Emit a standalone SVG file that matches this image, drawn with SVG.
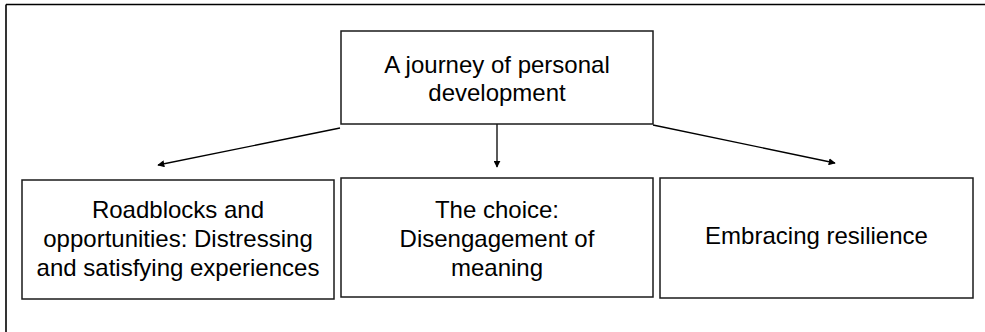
<svg xmlns="http://www.w3.org/2000/svg" width="985" height="332" viewBox="0 0 985 332">
<style>
.box{fill:#fff;stroke:#1a1a1a;stroke-width:1.5}
.t{font-family:"Liberation Sans",Arial,sans-serif;font-size:24px;fill:#000;text-anchor:middle}
.c{stroke:#000;stroke-width:1.3;fill:none;marker-end:url(#ah)}
</style>
<defs>
<marker id="ah" viewBox="0 0 10 10" refX="9" refY="5" markerWidth="7" markerHeight="7" markerUnits="userSpaceOnUse" orient="auto">
<path d="M0,0 L10,5 L0,10 z" fill="#000"/>
</marker>
</defs>
<rect width="985" height="332" fill="#fff"/>
<g id="frame">
<line x1="6" y1="4.5" x2="985" y2="4.5" stroke="#000" stroke-width="1.6"/>
<line x1="6" y1="4.5" x2="6" y2="332" stroke="#000" stroke-width="1.6"/>
</g>
<g id="connectors">
<line class="c" x1="340" y1="128" x2="158" y2="165"/>
<line class="c" x1="497" y1="124" x2="497" y2="167"/>
<line class="c" x1="653" y1="125" x2="835" y2="163"/>
</g>
<g id="top">
<rect class="box" x="341" y="31" width="312" height="93"/>
<text class="t" x="497" y="72.5">A journey of personal</text>
<text class="t" x="497" y="100.5">development</text>
</g>
<g id="roadblocks">
<rect class="box" x="22" y="180" width="312" height="119"/>
<text class="t" x="178" y="218">Roadblocks and</text>
<text class="t" x="178" y="247">opportunities: Distressing</text>
<text class="t" x="178" y="276">and satisfying experiences</text>
</g>
<g id="choice">
<rect class="box" x="341" y="178" width="312" height="119"/>
<text class="t" x="497" y="218">The choice:</text>
<text class="t" x="497" y="247">Disengagement of</text>
<text class="t" x="497" y="276">meaning</text>
</g>
<g id="resilience">
<rect class="box" x="660" y="178" width="313" height="120"/>
<text class="t" x="816.5" y="244">Embracing resilience</text>
</g>
</svg>
